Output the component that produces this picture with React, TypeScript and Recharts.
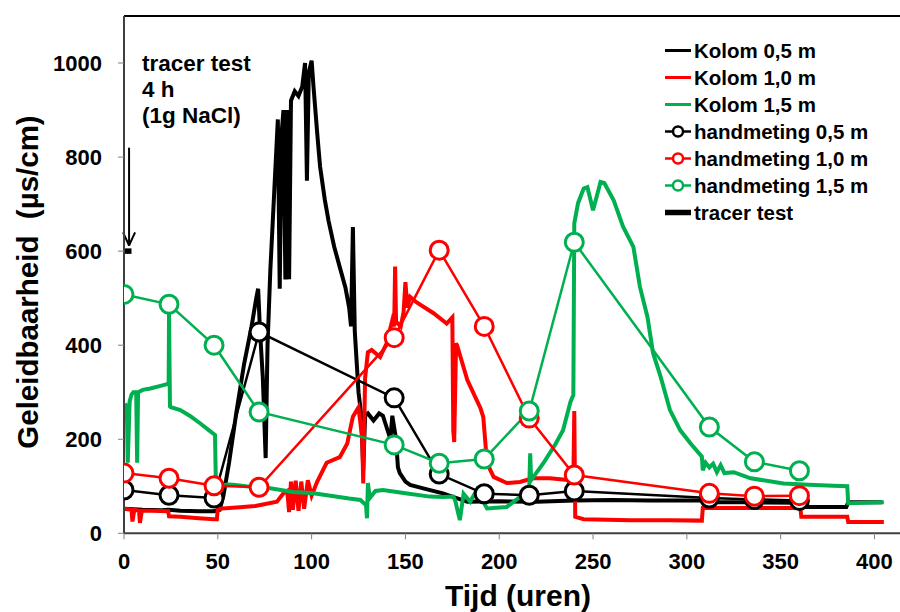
import { LineChart, Line, XAxis, YAxis, Legend, ReferenceLine } from 'recharts';

// continuous logger readings per column depth, [hour, µS/cm]
const kolom05 = [
  [0, 52], [10, 50], [20, 49], [24, 50], [30, 48], [40, 47], [48, 47], [51, 50],
  [53, 80], [56, 150], [60, 260], [64, 360], [68, 440], [70.5, 500], [71.5, 520],
  [72.5, 430], [74, 330], [75.5, 160], [76.5, 400], [78, 560], [80, 720], [82, 880],
  [83, 520], [84, 850], [85, 900], [86, 540], [87, 900], [88, 540], [89, 920],
  [91, 940], [93, 930], [95, 950], [96.5, 1000], [97.5, 750], [98.5, 980], [100, 1005],
  [101, 950], [103, 850], [104.5, 780], [107, 710], [109, 665], [112, 610], [115, 566],
  [118, 523], [120, 480], [121, 440], [122, 651], [123, 430], [125, 300], [126.5, 250],
  [127.5, 135], [128.5, 250], [130, 255], [133, 240], [136, 255], [138, 250], [140, 225],
  [142, 200], [143, 250], [145, 200], [146, 140], [147, 128], [150, 110], [152.5, 103],
  [160, 95], [170, 85], [183, 67], [200, 68], [220, 67], [240, 70], [260, 71], [280, 70],
  [308, 70], [312, 66], [330, 66], [360, 65], [361, 56], [385, 56], [386, 66], [404, 66],
];

const kolom10 = [
  [0, 52], [4, 50], [4.5, 25], [5.5, 50], [8, 48], [8.5, 22], [9.5, 48], [15, 48],
  [23.5, 47], [24, 36], [30, 35], [40, 32], [48, 30], [49.5, 30], [50, 52], [60, 55],
  [70, 58], [81.5, 67], [85, 85], [87, 90], [88, 45], [89, 110], [90, 50], [91.5, 112],
  [93, 48], [94.5, 110], [96, 52], [98, 113], [100, 80], [103, 110], [108, 150],
  [115, 162], [119, 191], [120.5, 220], [122, 248], [125, 268], [127, 200], [127.5, 106],
  [128.5, 330], [130, 385], [132, 390], [136.5, 375], [140, 404], [143, 453], [144, 440],
  [144.5, 567], [145, 450], [147.5, 440], [149, 470], [150, 534], [151, 480], [152.5, 503],
  [156, 491], [165, 468], [172, 446], [175, 459], [175.5, 219], [176, 194], [177, 404],
  [177.5, 400], [183, 326], [190, 266], [191.5, 247], [193.5, 149], [197, 120], [204, 107],
  [211, 109], [218, 117], [227, 117], [238, 113], [239.5, 112], [240, 260], [240.5, 35],
  [245, 30], [270, 28], [290, 28], [308, 27], [308.5, 54], [330, 54], [360.5, 54],
  [361, 35], [385.5, 35], [386, 24], [405, 24],
];

const kolom15 = [
  [0.5, 276], [1.5, 270], [2, 150], [3, 280], [4, 295], [5, 300], [6.5, 300], [7, 150],
  [7.5, 300], [10, 305], [14, 308], [20, 314], [23.8, 318], [24, 468], [24.5, 270],
  [25, 268], [30, 262], [35, 250], [40.5, 234], [45, 220], [48.5, 209], [49, 100],
  [55, 104], [58, 103], [65, 100], [78, 96], [90, 88], [101, 85], [110, 80], [120, 74],
  [126, 71], [129, 60], [129.5, 32], [130, 107], [131, 75], [134, 90], [138, 92],
  [150, 85], [163, 78], [170, 77], [175.5, 78], [176.5, 70], [179, 28], [181, 84],
  [184.5, 67], [188, 92], [193.5, 53], [204, 56], [211, 77], [216, 100], [216.5, 170],
  [217, 113], [223.5, 149], [230, 190], [234, 219], [238, 280], [239.5, 294], [240, 659],
  [242, 702], [245, 733], [247, 736], [250, 687], [254, 747], [256, 745], [261, 708],
  [266, 652], [271.5, 609], [275, 524], [279, 460], [282, 383], [286, 333], [291, 262],
  [296.5, 219], [302, 191], [308, 163], [308.5, 134], [310, 150], [312, 140], [314, 148],
  [316, 130], [318, 145], [320, 128], [325, 130], [334, 117], [351.5, 106], [365, 103],
  [378, 101], [385.5, 100], [386, 64], [405, 66],
];

// manual measurements
const handTimes = [0, 24, 48, 72, 144, 168, 192, 216, 240, 312, 336, 360];
const hand05 = [92, 81, 75, 428, 288, 126, 84, 81, 90, 75, 72, 70];
const hand10 = [128, 117, 101, 98, 416, 602, 440, 245, 124, 85, 79, 80];
const hand15 = [508, 487, 400, 258, 188, 149, 158, 260, 619, 226, 152, 133];

// salt dosing window
const tracerTimes = [0, 4];
const tracerLevel = 600;

const xTicks = [0, 50, 100, 150, 200, 250, 300, 350, 400];
const yTicks = [0, 200, 400, 600, 800, 1000];

const FONT = '"Liberation Sans", Arial, sans-serif';
const BLACK = '#000000';
const RED = '#ff0000';
const GREEN = '#00b050';

const toPts = (rows: number[][]) => rows.map(([t, v]) => ({ t, v }));
const handPts = (vals: number[]) => handTimes.map((t, i) => ({ t, v: vals[i] }));

const legendRows = [
  { name: 'Kolom 0,5 m', color: BLACK, dot: false, width: 3 },
  { name: 'Kolom 1,0 m', color: RED, dot: false, width: 3 },
  { name: 'Kolom 1,5 m', color: GREEN, dot: false, width: 3 },
  { name: 'handmeting 0,5 m', color: BLACK, dot: true, width: 2.5 },
  { name: 'handmeting 1,0 m', color: RED, dot: true, width: 2.5 },
  { name: 'handmeting 1,5 m', color: GREEN, dot: true, width: 2.5 },
  { name: 'tracer test', color: BLACK, dot: false, width: 5.5 },
];

const LegendBox = () => (
  <svg width={235} height={190}>
    {legendRows.map((r, i) => {
      const cy = 13.5 + i * 27;
      return (
        <g key={r.name}>
          <line x1={0} x2={26} y1={cy} y2={cy} stroke={r.color} strokeWidth={r.width} />
          {r.dot && <circle cx={13} cy={cy} r={5} fill="#fff" stroke={r.color} strokeWidth={2.5} />}
          <text x={29} y={cy} dominantBaseline="central" fontFamily={FONT} fontWeight="bold" fontSize={20.5} fill="#000">
            {r.name}
          </text>
        </g>
      );
    })}
  </svg>
);

const tickStyle = { fill: '#000', fontSize: 22, fontWeight: 'bold', fontFamily: FONT };

export default function App() {
  return (
    <div style={{ position: 'absolute', left: 0, top: 0, width: 900, height: 612, overflow: 'hidden', background: '#fff' }}>
      <LineChart width={922} height={612} margin={{ top: 16, right: 10, left: 0, bottom: 0 }}>
        <XAxis
          dataKey="t"
          type="number"
          domain={[0, 420]}
          ticks={xTicks}
          allowDataOverflow
          height={78.7}
          tick={tickStyle}
          tickSize={6}
          tickMargin={14}
          axisLine={{ stroke: '#404040', strokeWidth: 2 }}
          tickLine={{ stroke: '#808080', strokeWidth: 1 }}
        />
        <YAxis
          type="number"
          domain={[0, 1100]}
          ticks={yTicks}
          interval={0}
          width={124}
          tick={tickStyle}
          tickSize={6}
          tickMargin={16}
          axisLine={{ stroke: '#404040', strokeWidth: 2 }}
          tickLine={{ stroke: '#808080', strokeWidth: 1 }}
        />
        <ReferenceLine y={1100} stroke="#000" strokeWidth={2} />

        <Line data={toPts(kolom05)} dataKey="v" name="Kolom 0,5 m" stroke={BLACK} strokeWidth={4} dot={false} isAnimationActive={false} />
        <Line data={toPts(kolom10)} dataKey="v" name="Kolom 1,0 m" stroke={RED} strokeWidth={4} dot={false} isAnimationActive={false} />
        <Line data={toPts(kolom15)} dataKey="v" name="Kolom 1,5 m" stroke={GREEN} strokeWidth={4} dot={false} isAnimationActive={false} />

        <Line data={handPts(hand05)} dataKey="v" name="handmeting 0,5 m" stroke={BLACK} strokeWidth={2.5}
          dot={{ r: 9, fill: '#fff', stroke: BLACK, strokeWidth: 3 }} isAnimationActive={false} />
        <Line data={handPts(hand10)} dataKey="v" name="handmeting 1,0 m" stroke={RED} strokeWidth={2.5}
          dot={{ r: 9, fill: '#fff', stroke: RED, strokeWidth: 3 }} isAnimationActive={false} />
        <Line data={handPts(hand15)} dataKey="v" name="handmeting 1,5 m" stroke={GREEN} strokeWidth={2.5}
          dot={{ r: 9, fill: '#fff', stroke: GREEN, strokeWidth: 3 }} isAnimationActive={false} />

        <Line data={tracerTimes.map((t) => ({ t, v: tracerLevel }))} dataKey="v" name="tracer test" stroke={BLACK}
          strokeWidth={5.5} dot={false} isAnimationActive={false} />

        {/* arrow pointing at the dosing window */}
        <ReferenceLine segment={[{ x: 2.7, y: 820 }, { x: 2.7, y: 612 }]} stroke="#000" strokeWidth={2} ifOverflow="visible" />
        <ReferenceLine segment={[{ x: -0.5, y: 640 }, { x: 2.7, y: 612 }]} stroke="#000" strokeWidth={2} ifOverflow="visible" />
        <ReferenceLine segment={[{ x: 5.9, y: 640 }, { x: 2.7, y: 612 }]} stroke="#000" strokeWidth={2} ifOverflow="visible" />

        <Legend
          layout="vertical"
          align="center"
          verticalAlign="middle"
          content={LegendBox}
          wrapperStyle={{ position: 'absolute', left: 665, top: 37, width: 235, height: 190 }}
        />

        <text fontFamily={FONT} fontWeight="bold" fontSize={22.5} fill="#000">
          <tspan x={142} y={71}>tracer test</tspan>
          <tspan x={142} y={97}>4 h</tspan>
          <tspan x={142} y={123}>(1g NaCl)</tspan>
        </text>
        <text x={27} y={282} transform="rotate(-90 27 282)" textAnchor="middle" dominantBaseline="central"
          fontFamily={FONT} fontWeight="bold" fontSize={29.5} fill="#000" style={{ whiteSpace: 'pre' }}>
          Geleidbaarheid  (µs/cm)
        </text>
        <text x={518} y={606} textAnchor="middle" fontFamily={FONT} fontWeight="bold" fontSize={30} fill="#000">
          Tijd (uren)
        </text>
      </LineChart>
    </div>
  );
}
